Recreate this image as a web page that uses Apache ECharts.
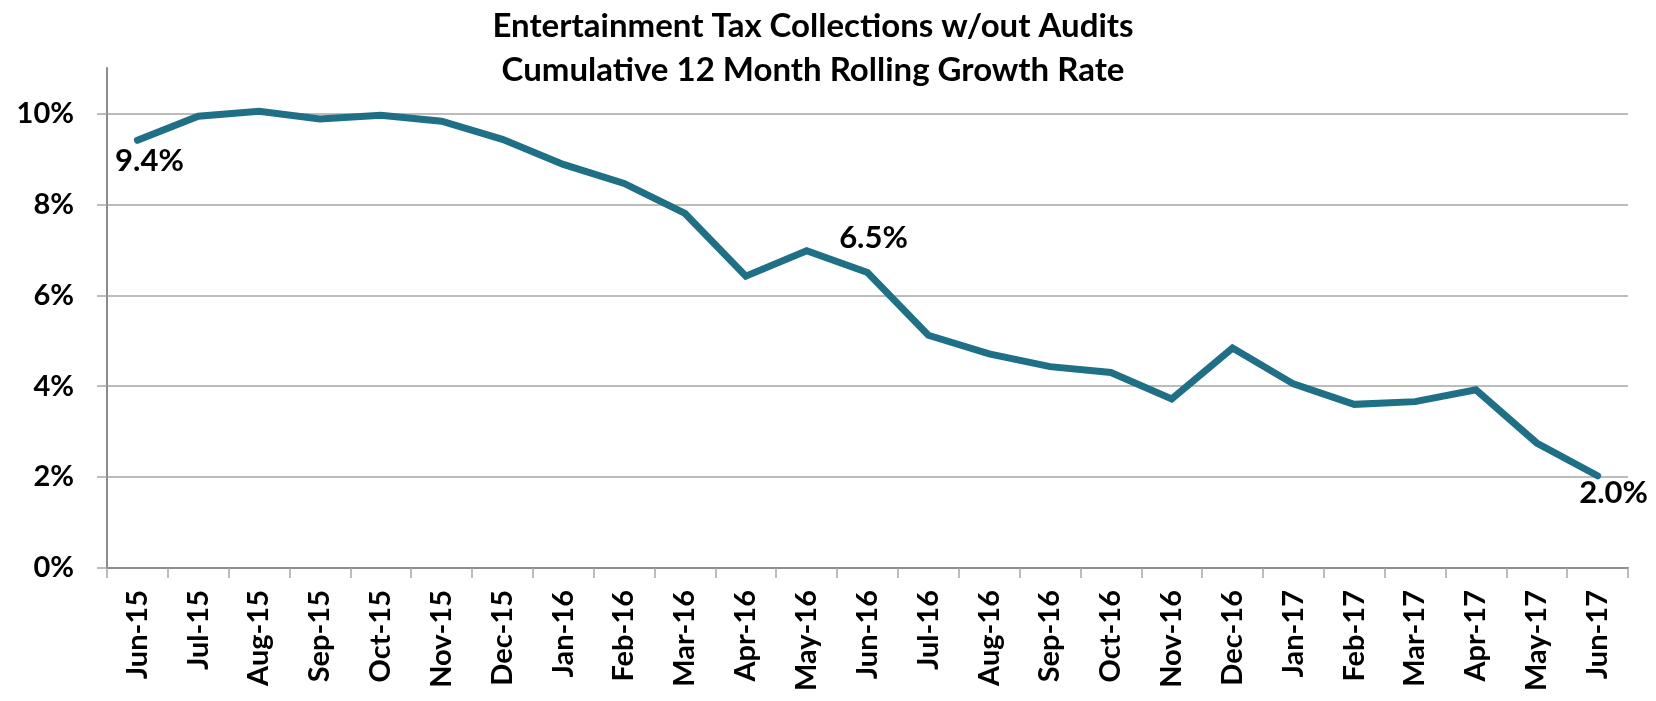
<!DOCTYPE html>
<html>
<head>
<meta charset="utf-8">
<script src="https://cdn.jsdelivr.net/npm/echarts@6/dist/echarts.min.js"></script>
<style>
html,body{margin:0;padding:0;background:#fff;}
#chart{width:1656px;height:701px;}
</style>
</head>
<body>
<div id="chart"></div>
<script>
const titleLines = ["Entertainment Tax Collections w/out Audits", "Cumulative 12 Month Rolling Growth Rate"];
const categories = ["Jun-15","Jul-15","Aug-15","Sep-15","Oct-15","Nov-15","Dec-15","Jan-16","Feb-16","Mar-16","Apr-16","May-16","Jun-16","Jul-16","Aug-16","Sep-16","Oct-16","Nov-16","Dec-16","Jan-17","Feb-17","Mar-17","Apr-17","May-17","Jun-17"];
const growthRate = [9.41, 9.94, 10.05, 9.88, 9.96, 9.83, 9.43, 8.88, 8.46, 7.80, 6.42, 6.98, 6.50, 5.12, 4.71, 4.43, 4.30, 3.72, 4.84, 4.05, 3.60, 3.66, 3.92, 2.75, 2.03];
const yTicks = [0, 2, 4, 6, 8, 10];
const labeledPoints = ["Jun-15", "Jun-16", "Jun-17"];

const FONT = "Lato";
const FS = 29;
const LINE_COLOR = "#1f6f86";
const labelStyles = {
  "Jun-15": {position: "bottom", offset: [12, 0]},
  "Jun-16": {position: "top", offset: [6, -14]},
  "Jun-17": {position: "bottom", offset: [16, -3]}
};

const seriesData = growthRate.map((v, i) => {
  const cat = categories[i];
  if (labeledPoints.includes(cat)) {
    const st = labelStyles[cat];
    return {
      value: v,
      label: {
        show: true,
        position: st.position,
        offset: st.offset,
        formatter: () => v.toFixed(1) + "%",
        fontFamily: FONT, fontWeight: "bold", fontSize: 31, color: "#000"
      }
    };
  }
  return v;
});

const chart = echarts.init(document.getElementById("chart"), null, {renderer: "canvas"});
chart.setOption({
  animation: false,
  backgroundColor: "#fff",
  title: {
    text: titleLines.join("\n"),
    left: 808, top: -1, textAlign: "center",
    textStyle: {fontFamily: FONT, fontWeight: "bold", fontSize: 33, lineHeight: 44, color: "#000"}
  },
  grid: {left: 107, right: 28, top: 68, bottom: 133, containLabel: false},
  xAxis: {
    type: "category",
    data: categories,
    boundaryGap: true,
    axisLine: {lineStyle: {color: "#8c8c8c", width: 2}},
    axisTick: {show: true, length: 10, alignWithLabel: false, lineStyle: {color: "#a6a6a6", width: 1.5}},
    axisLabel: {rotate: 90, margin: 22, interval: 0, fontFamily: FONT, fontWeight: "bold", fontSize: FS, color: "#000"}
  },
  yAxis: {
    type: "value",
    min: 0, max: 11, interval: 2,
    axisLine: {show: true, lineStyle: {color: "#8c8c8c", width: 2}},
    axisTick: {show: true, length: 10, customValues: yTicks, lineStyle: {color: "#a6a6a6", width: 1.5}},
    axisLabel: {customValues: yTicks, margin: 33, formatter: v => v + "%", fontFamily: FONT, fontWeight: "bold", fontSize: FS, color: "#000"},
    splitLine: {show: true, lineStyle: {color: ["#a6a6a6","#a6a6a6","#a6a6a6","#a6a6a6","#a6a6a6","#a6a6a6","rgba(0,0,0,0)"], width: 1.5}}
  },
  series: [{
    type: "line",
    data: seriesData,
    symbol: "circle",
    symbolSize: 0.1,
    showSymbol: true,
    itemStyle: {color: LINE_COLOR},
    lineStyle: {color: LINE_COLOR, width: 7, cap: "round", join: "miter"},
    label: {show: false},
    z: 5
  }]
});
</script>
</body>
</html>
